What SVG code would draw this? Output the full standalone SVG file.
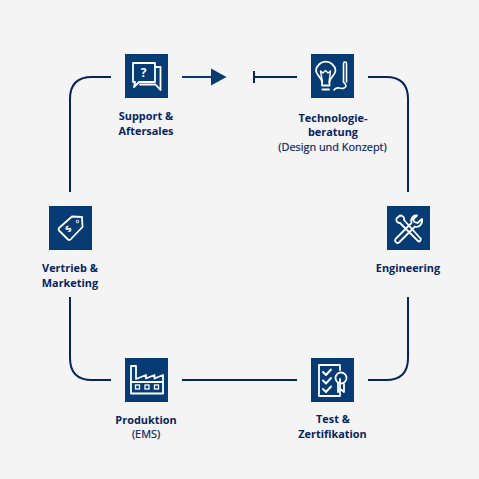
<svg xmlns="http://www.w3.org/2000/svg" width="479" height="479" viewBox="0 0 479 479">
<style>
.box{fill:#073b74}
.ic{fill:none;stroke:#fff;stroke-width:1.8;stroke-linejoin:round;stroke-linecap:round}
.ln{fill:none;stroke:#06255f;stroke-width:2}
text{font-family:"Open Sans","Noto Sans",sans-serif;font-size:10.9px;fill:#07245f;text-anchor:middle}
.b{font-weight:700}
.m{font-weight:400;stroke:#07245f;stroke-width:.2}
</style>
<rect width="479" height="479" fill="#f4f4f4"/>
<g id="connectors" class="ln">
<path d="M111 77H92Q70 77 70 99V192"/>
<path d="M182 77H213" stroke="#0a3a73"/>
<path d="M211 68.500L226.500 77L211 85.500Z" fill="#0a3a73" stroke="none"/>
<path d="M254 71V83" />
<path d="M254 77H297"/>
<path d="M368 77H386Q408 77 408 99V192"/>
<path d="M408 297V358Q408 380 386 380H368"/>
<path d="M182 380H297"/>
<path d="M70 297V358Q70 380 92 380H111"/>
</g>
<g id="support">
<rect class="box" x="125" y="54" width="43" height="44"/>
<g class="ic">
<path d="M133 63H155V82H139L134 87L135 82H133Z"/>
<path d="M155 67H160.500V90L155.500 84.500H140" />
</g>
<text x="143.500" y="77" style="font-size:12px;fill:#fff;font-weight:700">?</text>
<text class="b" x="146" y="120">Support &amp;</text>
<text class="b" x="146" y="134.500">Aftersales</text>
</g>
<g id="technologieberatung">
<rect class="box" x="311" y="54" width="43" height="44"/>
<g class="ic">
<path d="M322.500 89.500H329M322 85.500H329.500V82C330 77 335.500 75 335.500 70.500A9.800 9.800 0 0 0 316 70.500C316 75 321.500 77 322 82Z"/>
<path d="M322.500 82L320.500 71L323 73L325.500 70.500L328 73L330.500 71L329 82" stroke-width="1.400"/>
<path d="M334 90C337 85 340 90 344 88C348 86 345 84 343.500 82V63.500Q343.500 62 345 62Q346.500 62 346.500 63.500V82" stroke-width="1.600"/>
</g>
<text class="b" x="333" y="122">Technologie-</text>
<text class="b" x="333" y="136">beratung</text>
<text class="m" x="332.500" y="151">(Design und Konzept)</text>
</g>
<g id="engineering">
<rect class="box" x="387" y="206" width="43" height="44"/>
<g class="ic">
<path d="M397 218L400 215.500C403 215.500 405 218 404 220L420 238C422 238 420 243 418 241L414.500 237.500L400 223C397 223 395 220 397 218Z"/>
<path d="M417 215.500L413 219.500L414.500 222L417.500 223L422 219C423 224 419 228 415 226.500L399 242.500C397 244 394 241 395.500 239L411.500 223C410 219 413 215 417 215.500Z"/>
</g>
<text class="b" x="408" y="272">Engineering</text>
</g>
<g id="test">
<rect class="box" x="311" y="358" width="43" height="44"/>
<g class="ic">
<path d="M340 379V396H319V365H340V370"/>
<path d="M323 372L326 375L331 369.500M323 380.500L326 383.500L331 378M323 389L326 392L331 386.500" stroke-width="1.900"/>
<circle cx="341" cy="378" r="5.500"/>
<path d="M338 384V392L341 389.500L344 392V384"/>
</g>
<text class="b" x="333" y="423">Test &amp;</text>
<text class="b" x="332.500" y="437.500">Zertifikation</text>
</g>
<g id="produktion">
<rect class="box" x="125" y="358" width="43" height="44"/>
<g class="ic">
<path d="M131 366H136V379L146 375V378.500L154.500 375V378.500L163 375V393.500H131Z"/>
<path d="M131 382H163"/>
</g>
<g fill="none" stroke="#fff" stroke-width="1.300">
<rect x="135.500" y="385" width="4" height="4"/>
<rect x="145" y="385" width="4" height="4"/>
<rect x="154.500" y="385" width="4" height="4"/>
</g>
<text class="b" x="146" y="424">Produktion</text>
<text class="m" x="146" y="438">(EMS)</text>
</g>
<g id="vertrieb">
<rect class="box" x="49" y="206" width="43" height="44"/>
<path class="ic" d="M59 228L72 216.500L82 217L82.500 227L70.500 239.500Q69.500 240.500 68 239.500L59 230.500Q58 229 59 228Z"/>
<circle cx="77.500" cy="221.500" r="1.300" fill="none" stroke="#fff" stroke-width="1"/>
<text x="68.500" y="232" transform="rotate(-45 68.500 229)" style="font-size:9px;fill:#fff;font-weight:700">$</text>
<text class="b" x="70" y="272">Vertrieb &amp;</text>
<text class="b" x="70" y="286.500">Marketing</text>
</g>
</svg>
